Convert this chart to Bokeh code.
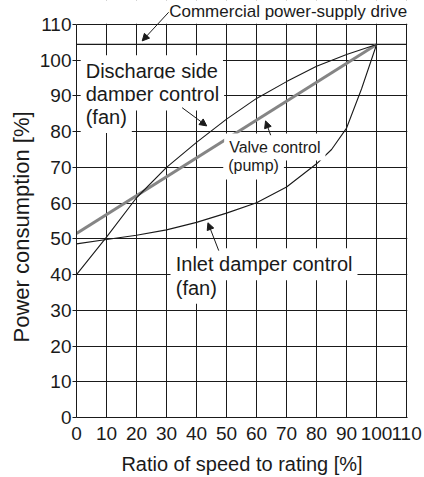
from bokeh.plotting import figure
from bokeh.models import Label, Arrow, NormalHead, FixedTicker, Range1d, BoxAnnotation, Title
from bokeh.embed import file_html
from bokeh.resources import INLINE

# ---- data ----
speed_discharge = [0, 10, 20, 30, 40, 50, 60, 70, 80, 90, 100]
power_discharge = [40, 50.5, 61.5, 70, 77, 83.5, 89.3, 94, 98.3, 101.6, 104.4]

speed_inlet = [0, 10, 20, 30, 40, 50, 60, 70, 80, 85, 90, 95, 100]
power_inlet = [48.6, 49.8, 51, 52.5, 54.6, 57.2, 60.1, 64.5, 71, 75, 81, 92, 104.4]

speed_valve = [0, 100]
power_valve = [51.5, 104.4]

speed_commercial = [0, 110]
power_commercial = [104.4, 104.4]

x_ticks = [0, 10, 20, 30, 40, 50, 60, 70, 80, 90, 100, 110]
y_ticks = [0, 10, 20, 30, 40, 50, 60, 70, 80, 90, 100, 110]

FONT = "Liberation Sans"
INK = "#1a1a1a"

p = figure(width=424, height=477, output_backend="svg", toolbar_location=None,
           x_range=Range1d(0, 110.3), y_range=Range1d(0, 116.7),
           min_border_left=76, min_border_right=17, min_border_top=0, min_border_bottom=60)
p.background_fill_color = "white"
p.border_fill_color = "white"
p.outline_line_color = None

for g in (p.xgrid, p.ygrid):
    g.grid_line_color = INK
    g.grid_line_width = 1
p.xgrid.ticker = FixedTicker(ticks=x_ticks)
p.ygrid.ticker = FixedTicker(ticks=y_ticks)

p.xaxis.ticker = FixedTicker(ticks=x_ticks)
p.yaxis.ticker = FixedTicker(ticks=y_ticks)
p.yaxis.bounds = (0, 110)
for ax in (p.xaxis[0], p.yaxis[0]):
    ax.axis_line_color = INK
    ax.major_tick_line_color = INK
    ax.minor_tick_line_color = None
    ax.major_label_text_font = FONT
    ax.major_label_text_font_size = "19px"
    ax.major_label_text_color = INK
    ax.axis_label_text_font = FONT
    ax.axis_label_text_font_style = "normal"
    ax.axis_label_text_color = INK
p.yaxis.major_tick_out = 4
p.yaxis.major_tick_in = 0
p.yaxis.major_label_standoff = 1
p.xaxis.major_tick_out = 0
p.xaxis.major_tick_in = 0
p.xaxis.major_label_standoff = 9
p.xaxis.axis_label = "Ratio of speed to rating [%]"
p.xaxis.axis_label_text_font_size = "20px"
p.xaxis.axis_label_standoff = 10

# y-axis title (as a left-side title so it can be placed along the 0-110 span)
p.add_layout(Title(text="Power consumption [%]", align="left", offset=75,
                   text_font=FONT, text_font_size="22px", text_font_style="normal",
                   text_color=INK, standoff=5), "left")

# mask above the 110 line so the grid stops there
p.add_layout(BoxAnnotation(bottom=110.2, fill_color="white", fill_alpha=1, line_color=None))

# curves
p.line(speed_commercial, power_commercial, line_color=INK, line_width=1.2)
p.line(speed_valve, power_valve, line_color="#858585", line_width=3)
p.line(speed_discharge, power_discharge, line_color=INK, line_width=1.1)
p.line(speed_inlet, power_inlet, line_color=INK, line_width=1.1)

# text labels: (text, x, y, size, background)
labels = [
    ("Discharge side", 1.4, 96.9, "20px", True),
    ("damper control", 1.4, 90.4, "20px", True),
    ("(fan)", 1.4, 84.1, "20px", True),
    ("Valve control", 49.2, 75.7, "16px", True),
    ("(pump)", 48.9, 70.4, "16px", True),
    ("Inlet damper control", 31.4, 42.9, "20px", True),
    ("(fan)", 31.4, 36.3, "20px", True),
    ("Commercial power-supply drive", 30.9, 113.6, "17px", False),
]
for txt, x, y, size, bg in labels:
    lab = Label(x=x, y=y, text=txt, text_font=FONT, text_font_size=size,
                text_color=INK, text_baseline="alphabetic", text_align="left")
    if bg:
        lab.background_fill_color = "white"
        lab.padding = 5
    p.add_layout(lab)

# arrows: (x_start, y_start, x_end, y_end)
arrows = [
    (30.7, 113.4, 21.9, 105.4),
    (35.2, 86.7, 43.4, 81.6),
    (64.7, 79.0, 63.0, 83.0),
    (47.4, 46.7, 43.8, 54.5),
]
for xs, ys, xe, ye in arrows:
    p.add_layout(Arrow(x_start=xs, y_start=ys, x_end=xe, y_end=ye,
                       line_color=INK, line_width=1,
                       end=NormalHead(size=7, fill_color=INK, line_color=INK)))

open("out.html", "w").write(file_html(p, INLINE))
